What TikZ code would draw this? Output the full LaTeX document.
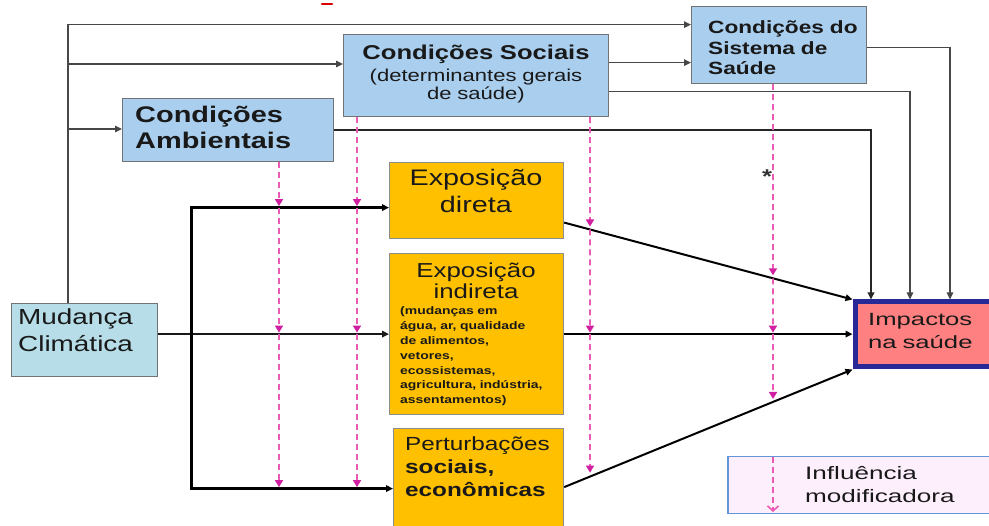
\documentclass[tikz,border=0pt]{standalone}
\usepackage{fontspec}
\setmainfont{Liberation Sans}[FakeStretch=1.28]
\newfontfamily\widefont{Liberation Sans}[FakeStretch=1.45]
\usetikzlibrary{arrows.meta,calc}
\definecolor{boxblue}{RGB}{170,206,238}
\definecolor{mcteal}{RGB}{183,222,232}
\definecolor{exporange}{RGB}{255,192,0}
\definecolor{imppink}{RGB}{255,128,128}
\definecolor{impnavy}{RGB}{40,40,150}
\definecolor{legfill}{RGB}{253,240,252}
\definecolor{legdraw}{RGB}{100,150,215}
\definecolor{inflpink}{RGB}{235,90,180}
\definecolor{inflmag}{RGB}{210,30,160}
\begin{document}
\begin{tikzpicture}[x=1pt,y=-1pt,
  box/.style={draw=black!55, line width=1.2pt, inner sep=0pt, anchor=north west},
  bluebox/.style={box, fill=boxblue},
  tealbox/.style={box, fill=mcteal},
  orangebox/.style={box, draw=black!45, fill=exporange},
  txt/.style={inner sep=0pt, anchor=base west, text width=#1, align=left, text=black!90},
  txt/.default=200pt,
  ctxt/.style={inner sep=0pt, anchor=base, text width=#1, align=center, text=black!90},
  ctxt/.default=250pt,
  thinline/.style={draw=black!72, line width=1.3pt},
  medline/.style={draw=black!85, line width=2.2pt},
  thickline/.style={draw=black, line width=3pt},
  diagline/.style={draw=black, line width=2pt},
  tip/.style={-{Triangle[length=7pt,width=6.5pt]}},
  infl/.style={draw=inflpink, line width=1.6pt, dash pattern=on 6pt off 4pt,
    -{Triangle[length=7pt,width=8pt,color=inflmag]}, shorten >=1.5pt}
]
\useasboundingbox (0,0) rectangle (989,526);
\clip (0,0) rectangle (989,526);
\fill[white] (0,0) rectangle (989,526);

% red mark at the top edge
\draw[red!85!black, line width=2.6pt, line cap=round] (322,4) -- (332,4);

% boxes
\node[bluebox, minimum width=211pt, minimum height=63pt] (amb) at (122,98) {};
\node[bluebox, minimum width=265pt, minimum height=82pt] (soc) at (343,34) {};
\node[bluebox, minimum width=175pt, minimum height=77pt] (sis) at (691,6) {};
\node[tealbox, minimum width=146pt, minimum height=73pt] (mc) at (11,303) {};
\node[orangebox, minimum width=174pt, minimum height=76pt] (ed) at (389,162) {};
\node[orangebox, minimum width=174pt, minimum height=161pt] (ei) at (389,253) {};
\node[orangebox, minimum width=170pt, minimum height=120pt] (pe) at (393,428) {};
\node[box, draw=impnavy, line width=5pt, fill=imppink, minimum width=165pt, minimum height=65pt] (imp) at (852.5,299.5) {};
\node[box, draw=legdraw, line width=1.5pt, fill=legfill, minimum width=290pt, minimum height=57pt] (leg) at (727,456) {};

% texts
\node[txt, font=\fontsize{22.6}{26}\selectfont\bfseries] (ambT) at (135,123) {Condições\\Ambientais};
\node[ctxt, font=\fontsize{20}{22}\selectfont\bfseries] (socT) at (476,60) {Condições Sociais};
\node[ctxt, font=\fontsize{17.2}{18}\selectfont] (socS) at (476,82) {(determinantes gerais\\de saúde)};
\node[txt, font=\fontsize{17.7}{20.5}\selectfont\bfseries] (sisT) at (708,34) {Condições do\\Sistema de\\Saúde};
\node[txt, font=\fontsize{21.8}{27}\selectfont] (mcT) at (18,325) {Mudança\\Climática};
\node[ctxt=170pt, font=\fontsize{22.5}{27}\selectfont] (edT) at (476,186) {Exposição\\direta};
\node[ctxt=170pt, font=\fontsize{20.2}{21}\selectfont] (eiT) at (476,278) {Exposição\\indireta};
\node[txt=160pt, font=\fontsize{10.9}{14.8}\selectfont\bfseries] (eiS) at (400,315) {(mudanças em\\água, ar, qualidade\\de alimentos,\\vetores,\\ecossistemas,\\agricultura, indústria,\\assentamentos)};
\node[txt=160pt, font=\fontsize{19}{23}\selectfont] (peT) at (405,451) {Perturbações\\\textbf{sociais,}\\\textbf{econômicas}};
\node[txt=120pt, font=\fontsize{17.7}{23}\selectfont\widefont] (impT) at (868,326) {Impactos\\na saúde};
\node[txt=180pt, font=\fontsize{18}{23}\selectfont\widefont] (legT) at (805,480) {Influência\\modificadora};
\node[inner sep=0pt, font=\fontsize{20}{20}\selectfont\bfseries, text=black!80] (star) at (767,177) {*};

% helper coordinates
\coordinate (x68) at (68,0);
\coordinate (x191) at (191,0);
\coordinate (x279) at (279,0);
\coordinate (x357) at (357,0);
\coordinate (x590) at (590,0);
\coordinate (x773) at (773,0);
\coordinate (x871) at (871,0);
\coordinate (x910) at (910,0);
\coordinate (x950) at (950,0);
\coordinate (t64) at (68,64);
\coordinate (t129) at (68,129);
\coordinate (s62) at ([yshift=13pt]soc.east);
\coordinate (s91) at ([yshift=-16pt]soc.east);
\coordinate (sis47) at ([yshift=-2.5pt]sis.east);
\coordinate (e207) at ([yshift=-7pt]ed.west);
\coordinate (edo) at ([yshift=-22pt]ed.east);
\coordinate (peo) at ([yshift=1.5pt]pe.east);

% climate-change trunk to the conditions boxes
\draw[thinline, tip] (x68 |- mc.north) |- ([yshift=20.5pt]sis.west);
\draw[thinline, tip] (t64) -- (t64 -| soc.west);
\draw[thinline, tip] (t129) -- (t129 -| amb.west);
\draw[thinline, tip] (s62) -- (s62 -| sis.west);

% conditions down to health impacts
\draw[thinline, tip] (sis47) -| (x950 |- imp.north);
\draw[thinline, tip] (s91) -| (x910 |- imp.north);
\draw[medline, tip] (amb.east) -| (x871 |- imp.north);

% climate change to exposures
\draw[line width=2pt, draw=black!90, tip] (mc.east |- ei.west) -- (ei.west);
\draw[thickline, tip] (x191 |- pe.west) |- (e207);
\draw[thickline, tip] (x191 |- e207) |- (pe.west);

% exposures to health impacts
\draw[diagline, tip] (edo) -- (imp.north west);
\draw[diagline, tip] (ei.east) -- (ei.east -| imp.west);
\draw[diagline, tip] (peo) -- (imp.south west);

% modifying influences
\draw[infl] (x279 |- amb.south) -- (x279 |- e207);
\draw[infl] (x279 |- e207) -- (x279 |- ei.west);
\draw[infl] (x279 |- ei.west) -- (x279 |- pe.west);
\draw[infl] (x357 |- soc.south) -- (x357 |- e207);
\draw[infl] (x357 |- e207) -- (x357 |- ei.west);
\draw[infl] (x357 |- ei.west) -- (x357 |- pe.west);
\coordinate (x590b) at (590,600);
\coordinate (x773b) at (773,600);
\coordinate (q1) at (intersection of edo--imp.north west and x590--x590b);
\coordinate (q2) at (intersection of peo--imp.south west and x590--x590b);
\coordinate (r1) at (intersection of edo--imp.north west and x773--x773b);
\coordinate (r2) at (intersection of peo--imp.south west and x773--x773b);
\draw[infl, shorten >=3pt] (x590 |- soc.south) -- (q1);
\draw[infl] (q1) -- (x590 |- ei.west);
\draw[infl, shorten >=4pt] (x590 |- ei.west) -- (q2);
\draw[infl, shorten >=3pt] (x773 |- sis.south) -- (r1);
\draw[infl] (r1) -- (x773 |- ei.west);
\draw[infl, shorten >=3pt] (x773 |- ei.west) -- (r2);

% legend arrow
\coordinate (lg1) at (773,457);
\coordinate (lg2) at (773,512);
\draw[draw=inflpink, line width=1.6pt, dash pattern=on 6pt off 4pt,
  -{Straight Barb[length=5pt,width=11pt]}] (lg1) -- (lg2);
\end{tikzpicture}
\end{document}
